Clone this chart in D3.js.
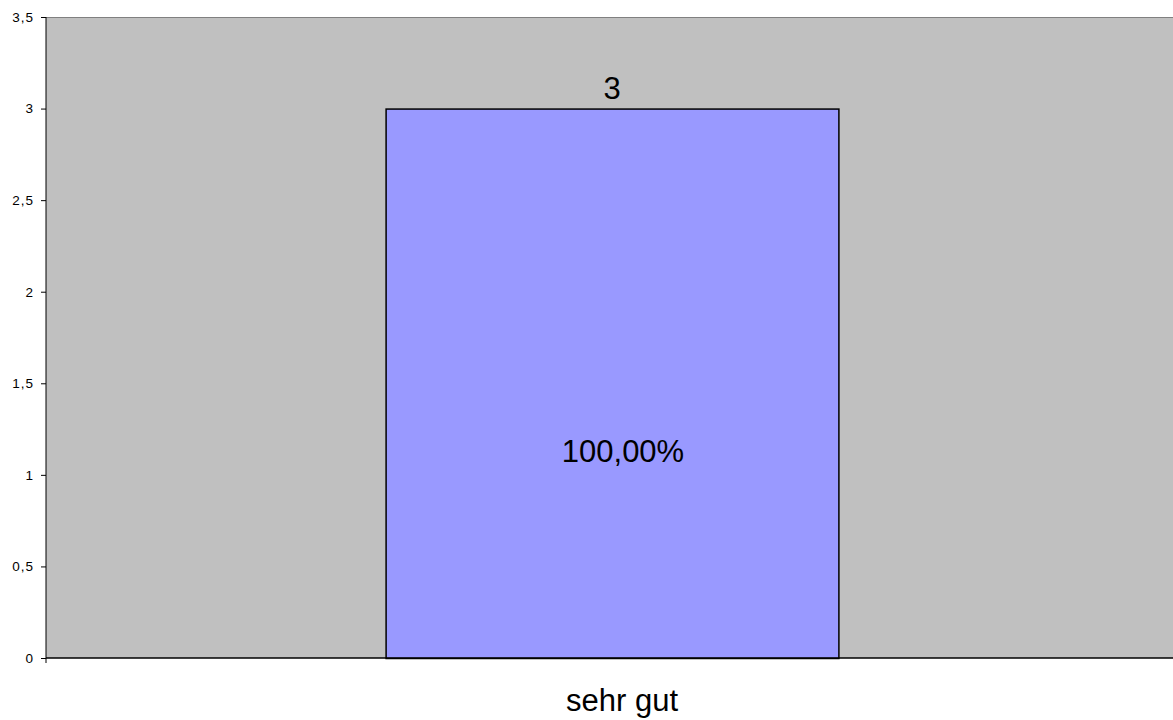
<!DOCTYPE html>
<html>
<head>
<meta charset="utf-8">
<script src="https://cdn.jsdelivr.net/npm/d3@7"></script>
<style>
  body { margin: 0; background: #fff; }
  svg { display: block; font-family: "Liberation Sans", Arial, sans-serif; }
</style>
</head>
<body>
<svg width="1173" height="720"></svg>
<script>
  var categories = ["sehr gut"]
  var values = [3]
  var percents = ["100,00%"]
  var yTicks = [0, 0.5, 1, 1.5, 2, 2.5, 3, 3.5]

  var width = 1173
  var height = 720
  var margin = {top: 17, right: -5, bottom: 62, left: 46}
  var fmt = d => String(d).replace(".", ",")

  var svg = d3.select("svg")

  var x = d3.scaleBand()
    .domain(categories)
    .range([margin.left, width - margin.right])
    .paddingInner(0.6)
    .paddingOuter(0.3)

  var y = d3.scaleLinear()
    .domain([0, 3.5])
    .range([height - margin.bottom, margin.top])

  // plot area
  svg.append("rect")
    .attr("x", margin.left)
    .attr("y", margin.top)
    .attr("width", width - margin.left)
    .attr("height", height - margin.top - margin.bottom)
    .attr("fill", "#c0c0c0")

  svg.append("line")
    .attr("x1", margin.left).attr("x2", width)
    .attr("y1", margin.top + 0.5).attr("y2", margin.top + 0.5)
    .attr("stroke", "#808080")

  // bars
  svg.append("g")
    .selectAll("rect")
    .data(values)
    .join("rect")
    .attr("x", (d, i) => x(categories[i]) + 0.5)
    .attr("y", d => y(d) + 0.5)
    .attr("width", x.bandwidth())
    .attr("height", d => y(0) - y(d))
    .attr("fill", "#9999ff")
    .attr("stroke", "#000")
    .attr("stroke-width", 1.5)

  // y axis
  var yAxis = svg.append("g")
    .attr("transform", `translate(${margin.left},0)`)
    .call(d3.axisLeft(y).tickValues(yTicks).tickFormat(fmt).tickSize(5).tickPadding(7))
  yAxis.select(".domain").remove()
  yAxis.append("line")
    .attr("x1", 0).attr("x2", 0)
    .attr("y1", margin.top).attr("y2", y(0) + 5)
    .attr("stroke", "#000")
  yAxis.selectAll("text")
    .attr("font-size", 13.5)
    .attr("letter-spacing", 1)
    .attr("fill", "#000")
    .attr("font-family", "Liberation Sans, Arial, sans-serif")
  yAxis.selectAll(".tick line").attr("stroke", "#000")

  // x axis line
  svg.append("line")
    .attr("x1", margin.left).attr("x2", width)
    .attr("y1", y(0)).attr("y2", y(0))
    .attr("stroke", "#000")
    .attr("stroke-width", 1.5)

  // category labels
  svg.append("g")
    .selectAll("text")
    .data(categories)
    .join("text")
    .attr("x", d => x(d) + x.bandwidth() / 2 + 10)
    .attr("y", 711)
    .attr("text-anchor", "middle")
    .attr("font-size", 31)
    .text(d => d)

  // value labels
  svg.append("g")
    .selectAll("text")
    .data(values)
    .join("text")
    .attr("x", (d, i) => x(categories[i]) + x.bandwidth() / 2)
    .attr("y", d => y(d) - 10)
    .attr("text-anchor", "middle")
    .attr("font-size", 31)
    .text(d => fmt(d))

  // percent labels
  svg.append("g")
    .selectAll("text")
    .data(values)
    .join("text")
    .attr("x", (d, i) => x(categories[i]) + x.bandwidth() / 2 + 11)
    .attr("y", d => y(d * 0.363) + 3)
    .attr("text-anchor", "middle")
    .attr("font-size", 31)
    .text((d, i) => percents[i])
</script>
</body>
</html>
